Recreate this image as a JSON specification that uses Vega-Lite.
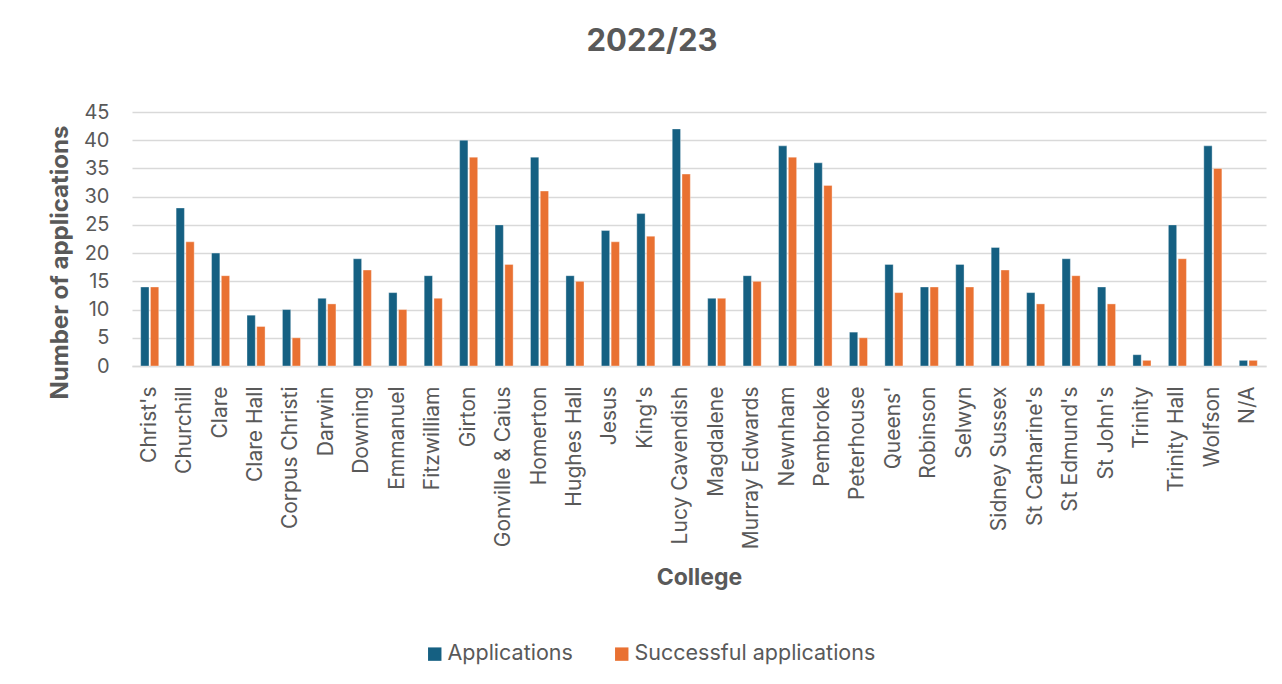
{
  "$schema": "https://vega.github.io/schema/vega-lite/v6.json",
  "width": 1134,
  "height": 254,
  "autosize": {"type": "none"},
  "padding": {"left": 132, "top": 112, "right": 16, "bottom": 318},
  "background": "#ffffff",
  "title": {
    "text": "2022/23",
    "font": "Inter",
    "fontSize": 31,
    "fontWeight": "bold",
    "color": "#595959",
    "frame": "group",
    "offset": 44,
    "dx": -47
  },
  "data": {
    "values": [
      {"college": "Christ's", "series": "Applications", "value": 14},
      {"college": "Christ's", "series": "Successful applications", "value": 14},
      {"college": "Churchill", "series": "Applications", "value": 28},
      {"college": "Churchill", "series": "Successful applications", "value": 22},
      {"college": "Clare", "series": "Applications", "value": 20},
      {"college": "Clare", "series": "Successful applications", "value": 16},
      {"college": "Clare Hall", "series": "Applications", "value": 9},
      {"college": "Clare Hall", "series": "Successful applications", "value": 7},
      {"college": "Corpus Christi", "series": "Applications", "value": 10},
      {"college": "Corpus Christi", "series": "Successful applications", "value": 5},
      {"college": "Darwin", "series": "Applications", "value": 12},
      {"college": "Darwin", "series": "Successful applications", "value": 11},
      {"college": "Downing", "series": "Applications", "value": 19},
      {"college": "Downing", "series": "Successful applications", "value": 17},
      {"college": "Emmanuel", "series": "Applications", "value": 13},
      {"college": "Emmanuel", "series": "Successful applications", "value": 10},
      {"college": "Fitzwilliam", "series": "Applications", "value": 16},
      {"college": "Fitzwilliam", "series": "Successful applications", "value": 12},
      {"college": "Girton", "series": "Applications", "value": 40},
      {"college": "Girton", "series": "Successful applications", "value": 37},
      {"college": "Gonville & Caius", "series": "Applications", "value": 25},
      {"college": "Gonville & Caius", "series": "Successful applications", "value": 18},
      {"college": "Homerton", "series": "Applications", "value": 37},
      {"college": "Homerton", "series": "Successful applications", "value": 31},
      {"college": "Hughes Hall", "series": "Applications", "value": 16},
      {"college": "Hughes Hall", "series": "Successful applications", "value": 15},
      {"college": "Jesus", "series": "Applications", "value": 24},
      {"college": "Jesus", "series": "Successful applications", "value": 22},
      {"college": "King's", "series": "Applications", "value": 27},
      {"college": "King's", "series": "Successful applications", "value": 23},
      {"college": "Lucy Cavendish", "series": "Applications", "value": 42},
      {"college": "Lucy Cavendish", "series": "Successful applications", "value": 34},
      {"college": "Magdalene", "series": "Applications", "value": 12},
      {"college": "Magdalene", "series": "Successful applications", "value": 12},
      {"college": "Murray Edwards", "series": "Applications", "value": 16},
      {"college": "Murray Edwards", "series": "Successful applications", "value": 15},
      {"college": "Newnham", "series": "Applications", "value": 39},
      {"college": "Newnham", "series": "Successful applications", "value": 37},
      {"college": "Pembroke", "series": "Applications", "value": 36},
      {"college": "Pembroke", "series": "Successful applications", "value": 32},
      {"college": "Peterhouse", "series": "Applications", "value": 6},
      {"college": "Peterhouse", "series": "Successful applications", "value": 5},
      {"college": "Queens'", "series": "Applications", "value": 18},
      {"college": "Queens'", "series": "Successful applications", "value": 13},
      {"college": "Robinson", "series": "Applications", "value": 14},
      {"college": "Robinson", "series": "Successful applications", "value": 14},
      {"college": "Selwyn", "series": "Applications", "value": 18},
      {"college": "Selwyn", "series": "Successful applications", "value": 14},
      {"college": "Sidney Sussex", "series": "Applications", "value": 21},
      {"college": "Sidney Sussex", "series": "Successful applications", "value": 17},
      {"college": "St Catharine's", "series": "Applications", "value": 13},
      {"college": "St Catharine's", "series": "Successful applications", "value": 11},
      {"college": "St Edmund's", "series": "Applications", "value": 19},
      {"college": "St Edmund's", "series": "Successful applications", "value": 16},
      {"college": "St John's", "series": "Applications", "value": 14},
      {"college": "St John's", "series": "Successful applications", "value": 11},
      {"college": "Trinity", "series": "Applications", "value": 2},
      {"college": "Trinity", "series": "Successful applications", "value": 1},
      {"college": "Trinity Hall", "series": "Applications", "value": 25},
      {"college": "Trinity Hall", "series": "Successful applications", "value": 19},
      {"college": "Wolfson", "series": "Applications", "value": 39},
      {"college": "Wolfson", "series": "Successful applications", "value": 35},
      {"college": "N/A", "series": "Applications", "value": 1},
      {"college": "N/A", "series": "Successful applications", "value": 1}
    ]
  },
  "mark": {"type": "bar", "stroke": "#ffffff", "strokeWidth": 0.6, "strokeOpacity": 0.6},
  "encoding": {
    "x": {
      "field": "college",
      "type": "nominal",
      "sort": null,
      "scale": {"paddingInner": 0.49, "paddingOuter": 0.245},
      "axis": {
        "title": "College",
        "titleFont": "Inter",
        "titleFontSize": 23,
        "titleFontWeight": "bold",
        "titleColor": "#595959",
        "titlePadding": 18,
        "labelFont": "Inter",
        "labelFontSize": 21,
        "labelColor": "#595959",
        "labelAngle": -90,
        "labelPadding": 20,
        "labelLimit": 300,
        "ticks": false,
        "domainColor": "#D9D9D9",
        "domainWidth": 1.5
      }
    },
    "xOffset": {
      "field": "series",
      "type": "nominal",
      "scale": {"paddingInner": 0.15, "paddingOuter": 0}
    },
    "y": {
      "field": "value",
      "type": "quantitative",
      "scale": {"domain": [0, 45]},
      "axis": {
        "title": "Number of applications",
        "titleFont": "Inter",
        "titleFontSize": 24,
        "titleFontWeight": "bold",
        "titleColor": "#595959",
        "titleX": -72,
        "titleY": 150,
        "titleBaseline": "middle",
        "labelFont": "Inter",
        "labelFontSize": 20,
        "labelColor": "#595959",
        "labelPadding": 23,
        "values": [0, 5, 10, 15, 20, 25, 30, 35, 40, 45],
        "ticks": false,
        "domain": false,
        "grid": true,
        "gridColor": "#D9D9D9",
        "gridWidth": 1.5
      }
    },
    "color": {
      "field": "series",
      "type": "nominal",
      "scale": {"domain": ["Applications", "Successful applications"], "range": ["#156082", "#E97132"]},
      "legend": {
        "title": null,
        "orient": "none",
        "direction": "horizontal",
        "legendX": 292,
        "legendY": 531,
        "symbolType": "square",
        "symbolSize": 180,
        "symbolStrokeWidth": 0,
        "labelFont": "Inter",
        "labelFontSize": 21.5,
        "labelColor": "#595959",
        "labelOffset": 2,
        "labelLimit": 400,
        "columnPadding": 38
      }
    }
  },
  "config": {
    "view": {"stroke": null}
  }
}
